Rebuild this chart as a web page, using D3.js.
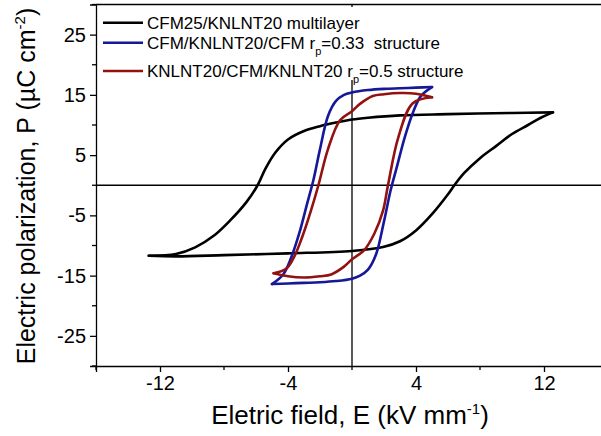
<!DOCTYPE html>
<html><head><meta charset="utf-8">
<script src="https://cdn.jsdelivr.net/npm/d3@7"></script>
<style>
body{margin:0;background:#fff}
svg{display:block}
text{font-family:"Liberation Sans",Arial,sans-serif;fill:#000}
</style>
</head><body>
<svg id="chart" width="601" height="436"></svg>
<script>
// ---- data (E in kV/mm, P in µC/cm²) ----
const seriesNames = ["CFM25/KNLNT20 multilayer", "CFM/KNLNT20/CFM r", "KNLNT20/CFM/KNLNT20 r"];
const seriesSuffix = ["", "=0.33\u00a0 structure", "=0.5 structure"];
const seriesColors = ["#000000", "#17179a", "#921212"];

const xMajorTicks = [-12, -4, 4, 12];
const xMinorTicks = [-16, -8, 0, 8, 16];
const yMajorTicks = [25, 15, 5, -5, -15, -25];
const yMinorTicks = [30, 20, 10, 0, -10, -20, -30];

// black loop: lower branch (E increasing) and upper branch (E decreasing)
const blackLowE = [-12.7, -11, -8, -4, 0, 2, 3, 4, 5, 6, 6.4, 7, 8, 9, 10, 11, 11.8, 12.56];
const blackLowP = [-11.7, -11.8, -11.6, -11.3, -10.9, -10.2, -9.3, -7.5, -4.8, -1.5, 0, 2, 4.5, 6.5, 8.5, 10, 11.2, 12.1];
const blackUpE = [12.56, 10, 6, 3, 1, 0, -1, -2, -3, -4, -4.8, -5.4, -5.9, -6.6, -7.6, -8.6, -9.8, -11, -12.7];
const blackUpP = [12.1, 12, 11.8, 11.6, 11.2, 10.9, 10.4, 9.8, 9.0, 7.6, 5.4, 2.8, 0, -2.8, -5.8, -8.3, -10.3, -11.4, -11.7];

// blue loop
const blueLowE = [-5.0, -4, -3, -2, -1, 0, 0.5, 1.0, 1.5, 2.0, 2.4, 2.8, 3.3, 3.8, 4.3, 5.0];
const blueLowP = [-16.4, -16.3, -16.2, -16.1, -15.9, -15.5, -15.0, -14.0, -11.5, -6, -1, 3, 8, 12, 14.8, 16.3];
const blueUpE = [5.0, 4, 3, 2, 1, 0, -0.5, -1.0, -1.5, -2.0, -2.4, -2.8, -3.3, -3.8, -4.3, -5.0];
const blueUpP = [16.3, 16.2, 16.1, 16.0, 15.8, 15.4, 15.0, 14.0, 11.5, 6, 1, -3, -8, -12, -14.8, -16.4];

// red loop
const redLowE = [-4.9, -4, -3, -2, -1.3, -0.5, 0, 0.75, 1.4, 1.94, 2.25, 2.9, 3.8, 5.0];
const redLowP = [-14.6, -15.1, -15.3, -15.1, -14.8, -13.5, -12.3, -10.8, -8, -4.2, 0, 8, 13.6, 14.6];
const redUpE = [5.0, 4, 3, 2, 1.3, 0.5, 0, -0.75, -1.5, -2.1, -2.6, -3.1, -3.6, -4.1, -4.9];
const redUpP = [14.6, 15.2, 15.3, 15.1, 14.8, 13.5, 12.3, 10.8, 6, 0, -4.5, -8.5, -11.8, -13.8, -14.6];

// ---- layout ----
const W = 601, H = 436;
const plot = {left: 96, right: 608, top: 4.5, bottom: 366};
const x = d3.scaleLinear().domain([-16, 16]).range([plot.left, plot.right]);
const y = d3.scaleLinear().domain([-30, 30]).range([plot.bottom, plot.top]);

const svg = d3.select("#chart");
svg.append("rect").attr("width", W).attr("height", H).attr("fill", "#fff");

// zero lines
svg.append("line").attr("x1", x(-16)).attr("x2", x(16)).attr("y1", y(0)).attr("y2", y(0))
  .attr("stroke", "#000").attr("stroke-width", 1.3);
svg.append("line").attr("x1", x(0)).attr("x2", x(0)).attr("y1", y(30)).attr("y2", y(-30))
  .attr("stroke", "#000").attr("stroke-width", 1.3);

// top frame
svg.append("line").attr("x1", x(-16)).attr("x2", x(16)).attr("y1", y(30)).attr("y2", y(30))
  .attr("stroke", "#000").attr("stroke-width", 1.3);

// axes
const fs = 20;
const xAxis = d3.axisBottom(x).tickValues(xMajorTicks).tickSize(6).tickPadding(4).tickFormat(d3.format("d"));
const gx = svg.append("g").attr("transform", `translate(0,${plot.bottom})`).call(xAxis);
gx.append("g").selectAll("line").data(xMinorTicks).join("line")
  .attr("x1", d => x(d)).attr("x2", d => x(d)).attr("y1", 0).attr("y2", 4).attr("stroke", "#000").attr("stroke-width", 1.3);
const yAxis = d3.axisLeft(y).tickValues(yMajorTicks).tickSize(6).tickPadding(4).tickFormat(d3.format("d"));
const gy = svg.append("g").attr("transform", `translate(${plot.left},0)`).call(yAxis);
gy.append("g").selectAll("line").data(yMinorTicks).join("line")
  .attr("x1", -4).attr("x2", 0).attr("y1", d => y(d)).attr("y2", d => y(d)).attr("stroke", "#000").attr("stroke-width", 1.3);
[gx, gy].forEach(g => {
  g.select(".domain").attr("stroke", "#000").attr("stroke-width", 1.3);
  g.selectAll(".tick line").attr("stroke", "#000").attr("stroke-width", 1.3);
  g.selectAll(".tick text").attr("font-size", fs).attr("font-family", '"Liberation Sans",Arial,sans-serif').attr("fill", "#000");
});
gx.selectAll(".tick text").text(d => d < 0 ? "-" + Math.abs(d) : d);
gy.selectAll(".tick text").text(d => d < 0 ? "-" + Math.abs(d) : d);

// axis titles
const xt = svg.append("text").attr("x", 350).attr("y", 424).attr("text-anchor", "middle").attr("font-size", 26);
xt.append("tspan").text("Eletric field, E (kV mm");
xt.append("tspan").attr("dy", -10).attr("font-size", 15).text("-1");
xt.append("tspan").attr("dy", 10).text(")");

const yt = svg.append("text").attr("transform", "translate(35,186) rotate(-90)").attr("text-anchor", "middle").attr("font-size", 25);
yt.append("tspan").text("Electric polarization, P (\u00b5C cm");
yt.append("tspan").attr("dy", -10).attr("font-size", 15).text("-2");
yt.append("tspan").attr("dy", 10).text(")");

// curves
const line = d3.line().x(d => x(d[0])).y(d => y(d[1])).curve(d3.curveCatmullRom.alpha(0.5));
const branches = [
  [blackLowE, blackLowP, 0], [blackUpE, blackUpP, 0],
  [blueLowE, blueLowP, 1], [blueUpE, blueUpP, 1],
  [redLowE, redLowP, 2], [redUpE, redUpP, 2]
];
branches.forEach(([E, P, s]) => {
  svg.append("path").datum(E.map((e, i) => [e, P[i]])).attr("d", line)
    .attr("fill", "none").attr("stroke", seriesColors[s]).attr("stroke-width", 2.6)
    .attr("stroke-linejoin", "round").attr("stroke-linecap", "round");
});

// legend
const lg = svg.append("g");
lg.append("rect").attr("x", 99).attr("y", 7).attr("width", 370).attr("height", 73).attr("fill", "#fff");
const legendY = [22.7, 42.7, 71];
seriesNames.forEach((name, i) => {
  lg.append("line").attr("x1", 103).attr("x2", 143).attr("y1", legendY[i]).attr("y2", legendY[i])
    .attr("stroke", seriesColors[i]).attr("stroke-width", 2.6);
  const t = lg.append("text").attr("x", 147).attr("y", legendY[i] + 6).attr("font-size", 17);
  t.append("tspan").text(name);
  if (i > 0) {
    t.append("tspan").attr("dy", 6).attr("font-size", 11).text("p");
    t.append("tspan").attr("dy", -6).text(seriesSuffix[i]);
  }
});
</script>
</body></html>
